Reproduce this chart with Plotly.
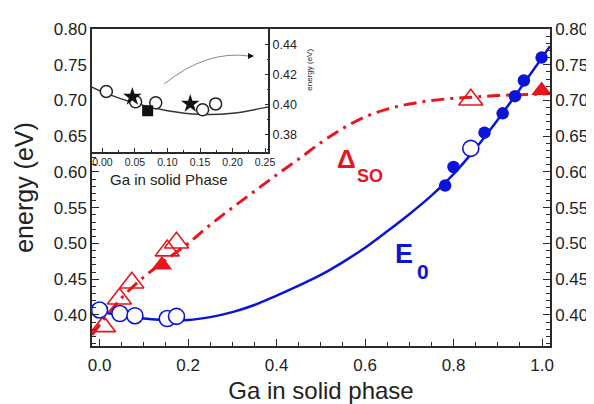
import plotly.graph_objects as go

FONT = "Arial, Liberation Sans, sans-serif"
BLUE = "#0a14d8"
RED = "#e8161c"
AX = "#2a2a2a"

# ---- main panel data ----
e0_open_x = [0.0, 0.046, 0.080, 0.153, 0.174, 0.839]
e0_open_y = [0.407, 0.402, 0.399, 0.395, 0.398, 0.633]
e0_fill_x = [0.781, 0.800, 0.870, 0.911, 0.939, 0.959, 0.999]
e0_fill_y = [0.581, 0.607, 0.655, 0.682, 0.706, 0.728, 0.760]
e0_fit_x = [-0.017, 0.0, 0.05, 0.1, 0.15, 0.2, 0.25, 0.3, 0.35, 0.4, 0.45, 0.5,
            0.55, 0.6, 0.65, 0.7, 0.75, 0.8, 0.85, 0.9, 0.95, 1.0, 1.018]
e0_fit_y = [0.408, 0.405, 0.399, 0.395, 0.393, 0.393, 0.397, 0.404, 0.414, 0.427,
            0.441, 0.456, 0.474, 0.494, 0.517, 0.541, 0.567, 0.597, 0.633, 0.673,
            0.716, 0.760, 0.776]

so_open_x = [0.009, 0.045, 0.073, 0.153, 0.174, 0.839]
so_open_y = [0.384, 0.4226, 0.445, 0.490, 0.501, 0.701]
so_fill_x = [0.141, 0.999]
so_fill_y = [0.470, 0.714]
so_fit_x = [-0.017, 0.0, 0.05, 0.1, 0.15, 0.2, 0.25, 0.3, 0.35, 0.4, 0.45, 0.5,
            0.55, 0.6, 0.65, 0.7, 0.75, 0.8, 0.85, 0.9, 0.95, 1.0, 1.018]
so_fit_y = [0.372, 0.386, 0.424, 0.453, 0.477, 0.500, 0.526, 0.550, 0.573, 0.596,
            0.618, 0.641, 0.661, 0.677, 0.688, 0.695, 0.700, 0.703, 0.705, 0.707,
            0.708, 0.709, 0.710]

x_ticks = [0.0, 0.2, 0.4, 0.6, 0.8, 1.0]
y_ticks = [0.40, 0.45, 0.50, 0.55, 0.60, 0.65, 0.70, 0.75, 0.80]

# ---- inset data ----
in_circ_x = [0.006, 0.051, 0.082, 0.154, 0.174]
in_circ_y = [0.4088, 0.4019, 0.4013, 0.3966, 0.4005]
in_star_x = [0.046, 0.135]
in_star_y = [0.4052, 0.4005]
in_sq_x = [0.0695]
in_sq_y = [0.3959]
in_fit_x = [-0.016, 0.0, 0.05, 0.1, 0.15, 0.2, 0.255]
in_fit_y = [0.4116, 0.4085, 0.4010, 0.3960, 0.3936, 0.3943, 0.3985]
in_x_ticks = [0.00, 0.05, 0.10, 0.15, 0.20, 0.25]
in_y_ticks = [0.38, 0.40, 0.42, 0.44]

fig = go.Figure()

# Delta_SO
fig.add_trace(go.Scatter(x=so_fit_x, y=so_fit_y, mode="lines", line_shape="spline",
                         line=dict(color=RED, width=3, dash="13px,6px,3px,6px"),
                         hoverinfo="skip", showlegend=False))
fig.add_trace(go.Scatter(x=so_open_x, y=so_open_y, mode="markers",
                         marker=dict(symbol="triangle-up-open", size=21, color=RED,
                                     line=dict(width=1.6, color=RED)), showlegend=False))
fig.add_trace(go.Scatter(x=so_fill_x, y=so_fill_y, mode="markers",
                         marker=dict(symbol="triangle-up", size=18, color=RED), showlegend=False))
# E0
fig.add_trace(go.Scatter(x=e0_fit_x, y=e0_fit_y, mode="lines", line_shape="spline",
                         line=dict(color=BLUE, width=2.5), hoverinfo="skip", showlegend=False))
fig.add_trace(go.Scatter(x=e0_open_x, y=e0_open_y, mode="markers",
                         marker=dict(symbol="circle", size=16, color="white",
                                     line=dict(width=1.6, color=BLUE)), showlegend=False))
fig.add_trace(go.Scatter(x=e0_fill_x, y=e0_fill_y, mode="markers",
                         marker=dict(symbol="circle", size=12.5, color=BLUE), showlegend=False))
# dummy for right axis
fig.add_trace(go.Scatter(x=[None], y=[None], yaxis="y2", showlegend=False))

# inset
fig.add_trace(go.Scatter(x=in_fit_x, y=in_fit_y, mode="lines", line_shape="spline",
                         line=dict(color="#333333", width=1.5), xaxis="x2", yaxis="y3",
                         hoverinfo="skip", showlegend=False))
fig.add_trace(go.Scatter(x=in_circ_x, y=in_circ_y, mode="markers", xaxis="x2", yaxis="y3",
                         marker=dict(symbol="circle", size=12, color="white",
                                     line=dict(width=1.5, color="#222")), showlegend=False))
fig.add_trace(go.Scatter(x=in_star_x, y=in_star_y, mode="markers", xaxis="x2", yaxis="y3",
                         marker=dict(symbol="star", size=14, color="#111"), showlegend=False))
fig.add_trace(go.Scatter(x=in_sq_x, y=in_sq_y, mode="markers", xaxis="x2", yaxis="y3",
                         marker=dict(symbol="square", size=11, color="#111"), showlegend=False))

tickfont = dict(family=FONT, size=17, color="#222")
common = dict(showline=True, linecolor=AX, linewidth=1.5, ticks="inside",
              tickcolor=AX, tickwidth=1.3, showgrid=False, zeroline=False)

fig.update_layout(
    width=594, height=404, margin=dict(l=84, r=52, t=12, b=65),
    paper_bgcolor="white", plot_bgcolor="white",
    font=dict(family=FONT),
    xaxis=dict(range=[-0.017, 1.018], tickvals=x_ticks, tickformat=".1f", ticklen=7,
               minor=dict(dtick=0.05, tick0=0, ticks="inside", ticklen=4, tickcolor=AX),
               mirror=True, tickfont=tickfont, domain=[0, 1], ticklabelstandoff=3,
               title=dict(text="Ga in solid phase", font=dict(family=FONT, size=24, color="#222"),
                          standoff=8), **common),
    yaxis=dict(range=[0.3566, 0.80], tickvals=y_ticks, tickformat=".2f", ticklen=7,
               minor=dict(dtick=0.01, tick0=0, ticks="inside", ticklen=4, tickcolor=AX),
               tickfont=tickfont,
               title=dict(text="energy (eV)", font=dict(family=FONT, size=25, color="#222"),
                          standoff=13), **common),
    yaxis2=dict(range=[0.3566, 0.80], tickvals=y_ticks, tickformat=".2f", ticklen=7,
                overlaying="y", side="right", anchor="x",
                minor=dict(dtick=0.01, tick0=0, ticks="inside", ticklen=4, tickcolor=AX),
                tickfont=tickfont, **common),
    xaxis2=dict(range=[-0.016, 0.255], domain=[0, 0.385], anchor="y3", tickvals=in_x_ticks,
                tickformat=".2f", ticklen=4,
                minor=dict(dtick=0.025, tick0=0, ticks="inside", ticklen=2, tickcolor=AX),
                tickfont=dict(family=FONT, size=10.5, color="#222"), mirror=True, **common),
    yaxis3=dict(range=[0.3686, 0.4503], domain=[0.6125, 1], anchor="x2", side="right",
                tickvals=in_y_ticks, tickformat=".2f", ticklen=4,
                minor=dict(dtick=0.01, tick0=0, ticks="inside", ticklen=2, tickcolor=AX),
                tickfont=dict(family=FONT, size=12.5, color="#222"), mirror=True, **common),
)

# inset x-axis title
fig.add_annotation(text="Ga in solid Phase", xref="paper", yref="paper",
                   x=(169 - 92) / 458, y=(347 - 175) / 327, xanchor="center",
                   yanchor="middle", showarrow=False,
                   font=dict(family=FONT, size=15, color="#222"))
# inset y-axis title (small rotated)
fig.add_annotation(text="energy (eV)", xref="paper", yref="paper", x=(310 - 92) / 458,
                   y=(347 - 62) / 327, xanchor="center", yanchor="middle",
                   showarrow=False, textangle=-90,
                   font=dict(family=FONT, size=8, color="#222"))

# curved gray arrow in inset
fig.add_shape(type="path", xref="x2", yref="y3",
              path="M 0.095,0.4137 Q 0.16,0.4365 0.226,0.4323",
              line=dict(color="#888888", width=1))
fig.add_annotation(x=0.233, y=0.4323, xref="x2", yref="y3", ax=-7, ay=0, text="",
                   showarrow=True, arrowhead=2, arrowsize=1, arrowwidth=1.2,
                   arrowcolor="#111")

# curve labels (main glyph + subscript placed separately)
fig.add_annotation(text="<b>Δ</b>", x=0.557, y=0.618, xref="x", yref="y",
                   showarrow=False, font=dict(family=FONT, size=26, color=RED))
fig.add_annotation(text="<b>SO</b>", x=0.611, y=0.595, xref="x", yref="y",
                   showarrow=False, font=dict(family=FONT, size=18, color=RED))
fig.add_annotation(text="<b>E</b>", x=0.687, y=0.4854, xref="x", yref="y",
                   showarrow=False, font=dict(family=FONT, size=27, color=BLUE))
fig.add_annotation(text="<b>0</b>", x=0.730, y=0.461, xref="x", yref="y",
                   showarrow=False, font=dict(family=FONT, size=21, color=BLUE))

fig.write_html("out.html")
